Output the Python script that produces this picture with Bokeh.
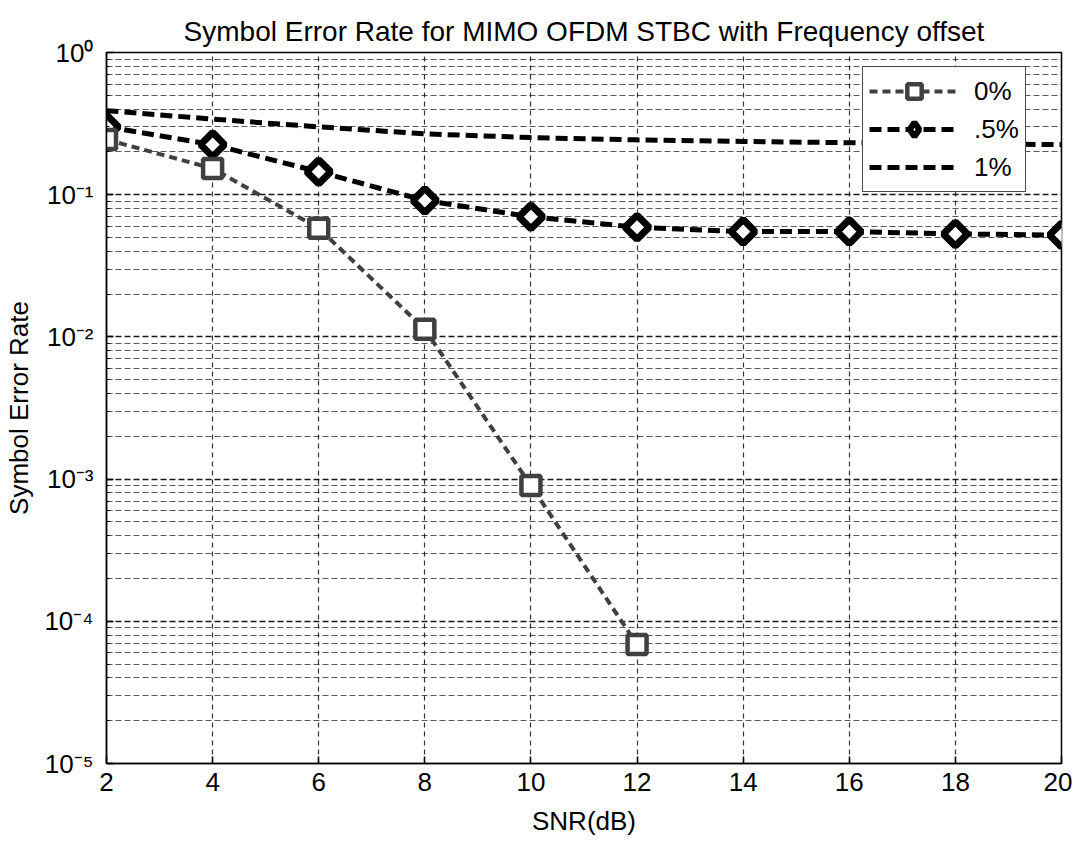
import math
from bokeh.plotting import figure
from bokeh.models import (FixedTicker, CustomJSTickFormatter, Legend, LegendItem,
                          Range1d)
from bokeh.embed import file_html
from bokeh.resources import INLINE

# ---- data ----
snr = [2, 4, 6, 8, 10, 12, 14, 16, 18, 20]
snr_0 = [2, 4, 6, 8, 10, 12]
ser_0 = [0.244, 0.153, 0.058, 0.0113, 0.00090, 0.0000687]
ser_05 = [0.30, 0.225, 0.145, 0.091, 0.070, 0.059, 0.055, 0.055, 0.053, 0.052]
ser_1 = [0.39, 0.34, 0.30, 0.268, 0.252, 0.243, 0.237, 0.232, 0.228, 0.225]
labels = ["0%", ".5%", "1%"]
title_text = "Symbol Error Rate for MIMO OFDM STBC with Frequency offset"
x_ticks = [2, 4, 6, 8, 10, 12, 14, 16, 18, 20]
y_major = [1e-5, 1e-4, 1e-3, 1e-2, 1e-1, 1.0]
y_minor = [m * 10.0 ** e for e in range(-5, 0) for m in range(2, 10)]

FONT = "Liberation Sans"

p = figure(frame_width=955, frame_height=711,
           x_range=Range1d(2, 20), y_range=Range1d(1e-5, 1),
           y_axis_type="log", output_backend="svg", toolbar_location=None,
           min_border_left=106, min_border_top=52, min_border_right=11,
           min_border_bottom=70)

p.title.text = title_text
p.title.align = "center"
p.title.text_font = FONT
p.title.text_font_size = "28px"
p.title.text_font_style = "normal"
p.title.text_color = "black"
p.title.standoff = 11

p.background_fill_color = "white"
p.border_fill_color = "white"
p.outline_line_color = "black"
p.outline_line_width = 1.5

# axes
p.xaxis.ticker = FixedTicker(ticks=x_ticks)
p.yaxis.ticker = FixedTicker(ticks=y_major, minor_ticks=y_minor)
p.yaxis.formatter = CustomJSTickFormatter(code="""
const e = Math.round(Math.log10(tick));
const sup = {'-':'\u207b','0':'\u2070','1':'\u00b9','2':'\u00b2','3':'\u00b3','4':'\u2074','5':'\u2075','6':'\u2076','7':'\u2077','8':'\u2078','9':'\u2079'};
return '10' + String(e).split('').map(c => sup[c]).join('');
""")
for ax in (p.xaxis, p.yaxis):
    ax.major_label_text_font = FONT
    ax.major_label_text_font_size = "26px"
    ax.major_label_text_color = "black"
    ax.axis_label_text_font = FONT
    ax.axis_label_text_font_size = "26px"
    ax.axis_label_text_font_style = "normal"
    ax.axis_label_text_color = "black"
    ax.axis_line_color = "black"
    ax.axis_line_width = 1.5
    ax.major_tick_in = 7
    ax.major_tick_out = 0
    ax.major_tick_line_color = "black"
    ax.major_tick_line_width = 1.5
    ax.minor_tick_in = 3
    ax.minor_tick_out = 0
p.xaxis.axis_label = "SNR(dB)"
p.yaxis.axis_label = "Symbol Error Rate"
p.xaxis.major_label_standoff = 9
p.yaxis.major_label_standoff = 13
p.xaxis.axis_label_standoff = 12
p.yaxis.axis_label_standoff = 7

# grids
p.xgrid.grid_line_color = "black"
p.xgrid.grid_line_alpha = 0.8
p.xgrid.grid_line_dash = "5 4"
p.xgrid.grid_line_width = 1.2
p.ygrid.grid_line_color = "black"
p.ygrid.grid_line_alpha = 0.9
p.ygrid.grid_line_dash = "6 3"
p.ygrid.grid_line_width = 1.3
p.ygrid.minor_grid_line_color = "black"
p.ygrid.minor_grid_line_alpha = 0.65
p.ygrid.minor_grid_line_dash = "6 3"
p.ygrid.minor_grid_line_width = 1.1

# series
l1 = p.line(snr, ser_1, line_color="black", line_width=5, line_dash="12 6")
l05 = p.line(snr, ser_05, line_color="black", line_width=5, line_dash="12 6")
# diamond marker used for the legend key; drawn underneath the rotated squares
s05_key = p.scatter(snr, ser_05, marker="diamond", size=20, fill_color="white",
                    line_color="black", line_width=6)
s05 = p.scatter(snr, ser_05, marker="square", angle=math.pi / 4, size=17,
                fill_color="white", line_color="black", line_width=7)
l0 = p.line(snr_0, ser_0, line_color="#404040", line_width=4, line_dash="8 5")
s0 = p.scatter(snr_0, ser_0, marker="square", size=19, fill_color="white",
               line_color="#404040", line_width=4.5)

legend = Legend(items=[
    LegendItem(label=labels[0], renderers=[l0, s0]),
    LegendItem(label=labels[1], renderers=[l05, s05_key]),
    LegendItem(label=labels[2], renderers=[l1]),
], location=(756, 571))
legend.label_text_font = FONT
legend.label_text_font_size = "26px"
legend.label_text_color = "black"
legend.glyph_width = 90
legend.glyph_height = 36
legend.spacing = 2
legend.padding = 6
legend.margin = 0
legend.label_standoff = 15
legend.border_line_color = "black"
legend.border_line_alpha = 0.7
legend.border_line_width = 1
legend.background_fill_color = "white"
legend.background_fill_alpha = 1
p.add_layout(legend, "center")

open("out.html", "w").write(file_html(p, INLINE))
